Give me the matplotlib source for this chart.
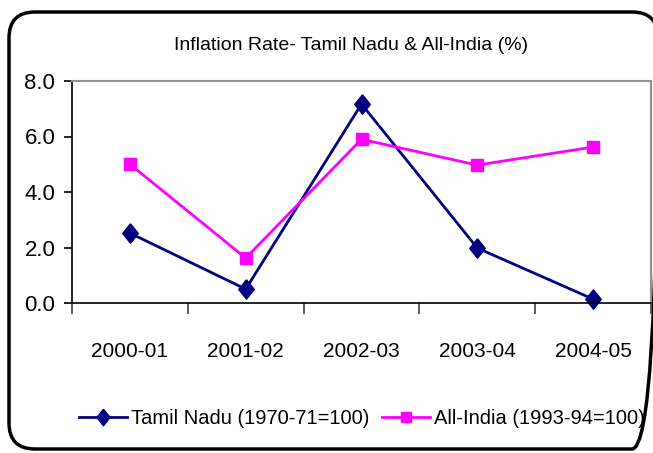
import matplotlib
matplotlib.use("Agg")
import matplotlib.pyplot as plt
from matplotlib.patches import FancyBboxPatch

plt.rcParams['font.family'] = ['Liberation Sans', 'DejaVu Sans']

categories = ["2000-01", "2001-02", "2002-03", "2003-04", "2004-05"]
tamil_nadu = [2.52, 0.5, 7.17, 1.98, 0.14]
all_india = [5.0, 1.62, 5.9, 4.97, 5.62]
yticks = [0.0, 2.0, 4.0, 6.0, 8.0]
title = "Inflation Rate- Tamil Nadu & All-India (%)"

W, H = 653, 453
fig = plt.figure(figsize=(W / 100, H / 100), dpi=100)

# rounded outer frame drawn in pixel coordinates
bg = fig.add_axes([0, 0, 1, 1], zorder=-1)
bg.set_xlim(0, W)
bg.set_ylim(H, 0)
bg.axis('off')
frame = FancyBboxPatch((9, 12), 658 - 9, 449 - 12,
                       boxstyle="round,pad=0,rounding_size=26",
                       fill=False, lw=2.5, ec='black')
bg.add_patch(frame)

diamond = [(0, 1), (0.8, 0), (0, -1), (-0.8, 0), (0, 1)]

ax = fig.add_axes([72 / W, (H - 303) / H, 579 / W, 222 / H])
x = list(range(len(categories)))
ax.plot(x, tamil_nadu, color='#000080', lw=2, marker=diamond, ms=14,
        label='Tamil Nadu (1970-71=100)', clip_on=False)
ax.plot(x, all_india, color='#FF00FF', lw=2, marker='s', ms=9,
        label='All-India (1993-94=100)', clip_on=False)

ax.set_xlim(-0.5, 4.5)
ax.set_ylim(0, 8)
ax.set_yticks(yticks)
ax.set_yticklabels([f"{v:.1f}" for v in yticks], fontsize=16)
ax.set_xticks(x)
ax.set_xticklabels(categories, fontsize=15)
ax.tick_params(axis='x', length=0, pad=28)
ax.set_xticks([i - 0.5 for i in range(len(categories) + 1)], minor=True)
ax.tick_params(axis='x', which='minor', length=8, width=1.2, color='#404040', direction='out')
ax.tick_params(axis='y', length=6, width=1.2, direction='out', pad=6)

for s in ['top', 'right']:
    ax.spines[s].set_color('#909090')
    ax.spines[s].set_linewidth(1.5)
for s in ['left', 'bottom']:
    ax.spines[s].set_color('black')
    ax.spines[s].set_linewidth(1.2)

fig.text(351 / W, 1 - 46 / H, title, ha='center', va='center', fontsize=14)

ax.legend(loc='center', bbox_to_anchor=(362 / W, 1 - 419 / H), bbox_transform=fig.transFigure,
          ncol=2, frameon=False, fontsize=14.5, handlelength=2.4, handletextpad=0.2,
          columnspacing=0.6, markerscale=0.85)

fig.savefig("out.png", dpi=100)
